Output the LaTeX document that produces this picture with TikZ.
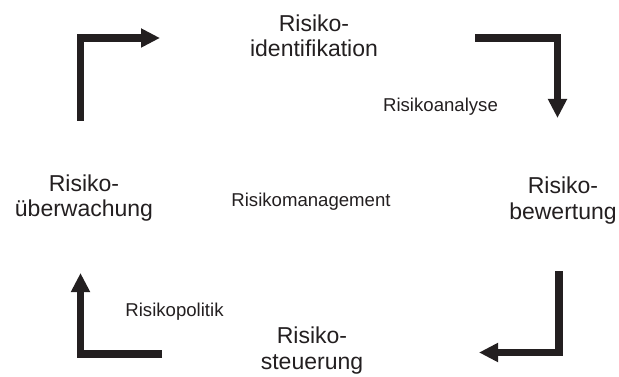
\documentclass[tikz,border=0pt]{standalone}
\usepackage{fontspec}
\setmainfont{Liberation Sans}
\usetikzlibrary{arrows.meta}
\definecolor{ink}{HTML}{231F20}
\begin{document}
\begin{tikzpicture}[x=1pt,y=-1pt,
  big/.style={font=\fontsize{23}{25.5}\selectfont, align=center, inner sep=0pt, text=ink, anchor=base},
  small/.style={font=\fontsize{18.6}{21}\selectfont, inner sep=0pt, text=ink, anchor=base},
  flow/.style={draw=ink, line width=7.5pt, line join=miter, line cap=butt, -{Triangle[length=19pt,width=18pt]}}]
\useasboundingbox (0,0) rectangle (619,377);
% labels (anchor base = baseline of the last line)
\node[big] (ident) at (314,56.8) {Risiko-\\identifikation};
\node[big] (ueber) at (84,217) {Risiko-\\überwachung};
\node[big] (bewert) at (563,219) {Risiko-\\bewertung};
\node[big] (steuer) at (312,369.3) {Risiko-\\steuerung};
\node[small] (analyse) at (440.5,111.7) {Risikoanalyse};
\node[small] (mgmt) at (311,206.7) {Risikomanagement};
\node[small] (politik) at (174.5,316.7) {Risikopolitik};
% arrow end points
\coordinate (tlA) at (80.5,121);
\coordinate (tlC) at (80.5,38);
\coordinate (tlB) at (160,38);
\coordinate (trA) at (475,38);
\coordinate (trC) at (557.5,38);
\coordinate (trB) at (557.5,118);
\coordinate (brA) at (559,271);
\coordinate (brC) at (559,352.5);
\coordinate (brB) at (479,352.5);
\coordinate (blA) at (162,354);
\coordinate (blC) at (80.5,354);
\coordinate (blB) at (80.5,273);
% arrows
\draw[flow] (tlA) -- (tlC) -- (tlB);
\draw[flow] (trA) -- (trC) -- (trB);
\draw[flow] (brA) -- (brC) -- (brB);
\draw[flow] (blA) -- (blC) -- (blB);
\end{tikzpicture}
\end{document}
